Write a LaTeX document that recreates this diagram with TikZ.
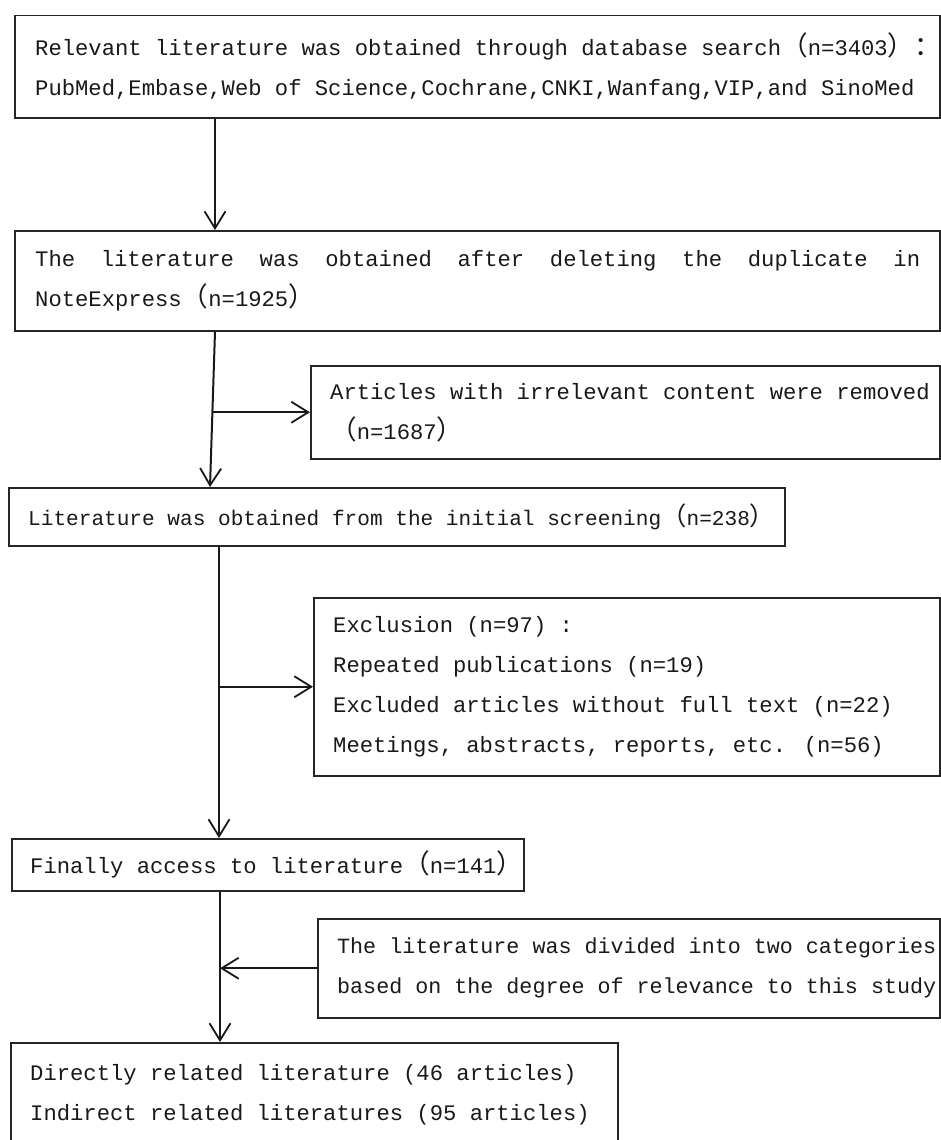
\documentclass[tikz,border=0pt]{standalone}
\usepackage{fontspec}
\setmainfont{Liberation Mono}
\newfontfamily\cjk{Noto Sans CJK SC}[Scale=1.2]
\usetikzlibrary{arrows.meta}
\newcommand{\fwl}{{\cjk （}}
\newcommand{\fwr}{{\cjk ）}}
\newcommand{\fwc}{{\cjk ：}}
\tikzset{
  box/.style={draw=black!85, line width=1.5pt, rectangle, anchor=north west, inner sep=0pt},
  txt/.style={anchor=west, align=left, inner sep=0pt, font=\fontsize{22.2pt}{40pt}\selectfont, text=black!90},
  arr/.style={draw=black!90, line width=2pt, -{Straight Barb[length=17pt,width=21pt,line width=1.8pt]}},
}
\begin{document}
\begin{tikzpicture}[x=1pt,y=-1pt]
\useasboundingbox[fill=white] (0,0) rectangle (940,1140);
% boxes
\node[box, minimum width=925pt, minimum height=102pt] (b1) at (14,15) {};
\node[box, minimum width=925pt, minimum height=100pt] (b2) at (14,230) {};
\node[box, minimum width=629pt, minimum height=93pt] (b3) at (310,365) {};
\node[box, minimum width=776pt, minimum height=58pt] (b4) at (8,487) {};
\node[box, minimum width=626pt, minimum height=178pt] (b5) at (313,597) {};
\node[box, minimum width=512pt, minimum height=52pt] (b6) at (11,838) {};
\node[box, minimum width=622pt, minimum height=99pt] (b7) at (317,918) {};
\node[box, minimum width=607pt, minimum height=103pt] (b8) at (10,1042) {};
% texts
\node[txt, xshift=21pt] (t1) at (b1.west)
  {Relevant literature was obtained through database search\fwl n=3403\fwr\fwc\\
   PubMed,Embase,Web of Science,Cochrane,CNKI,Wanfang,VIP,and SinoMed};
\node[txt, xshift=21pt] (t2) at (b2.west)
  {\makebox[885pt][l]{The\hfill literature\hfill was\hfill obtained\hfill after\hfill deleting\hfill the\hfill duplicate\hfill in}\\
   NoteExpress\fwl n=1925\fwr};
\node[txt, xshift=20pt] (t3) at (b3.west)
  {Articles with irrelevant content were removed\\
   \fwl n=1687\fwr};
\node[txt, xshift=20pt, font=\fontsize{21.1pt}{40pt}\selectfont] (t4) at (b4.west)
  {Literature was obtained from the initial screening\fwl n=238\fwr};
\node[txt, xshift=20pt] (t5) at (b5.west)
  {Exclusion (n=97) :\\
   Repeated publications (n=19)\\
   Excluded articles without full text (n=22)\\
   Meetings, abstracts, reports, etc. (n=56)};
\node[txt, xshift=19pt] (t6) at (b6.west)
  {Finally access to literature\fwl n=141\fwr};
\node[txt, xshift=20pt, font=\fontsize{21.7pt}{40pt}\selectfont] (t7) at (b7.west)
  {The literature was divided into two categories\\
   based on the degree of relevance to this study};
\node[txt, xshift=20pt] (t8) at (b8.west)
  {Directly related literature (46 articles)\\
   Indirect related literatures (95 articles)};
% connectors
\coordinate (x1) at (215,0);
\coordinate (x2) at (210,0);
\coordinate (x2m) at (212.5,0);
\coordinate (x3) at (219,0);
\coordinate (x4) at (220,0);
\draw[arr] (b1.south -| x1) -- (b2.north -| x1);
\draw[arr] (b2.south -| x1) -- (b4.north -| x2);
\draw[arr] (b3.west -| x2m) -- (b3.west);
\draw[arr] (b4.south -| x3) -- (b6.north -| x3);
\draw[arr] (b5.west -| x3) -- (b5.west);
\draw[arr] (b6.south -| x4) -- (b8.north -| x4);
\draw[arr] (b7.west) -- (b7.west -| x4);
\end{tikzpicture}
\end{document}
